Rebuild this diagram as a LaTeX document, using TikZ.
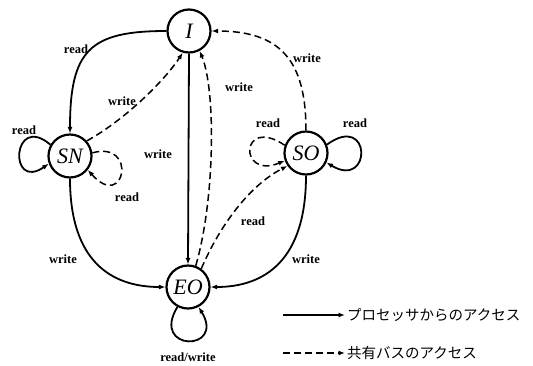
\documentclass[tikz,border=0pt]{standalone}
\usepackage{fontspec}
\setmainfont{Liberation Serif}
\newfontfamily\cjk{Noto Sans CJK JP}
\usetikzlibrary{arrows.meta}
\begin{document}
\begin{tikzpicture}[x=1pt,y=-1pt,
  state/.style={circle,draw,line width=2.2pt,minimum size=43pt,inner sep=0pt,font=\fontsize{22}{22}\selectfont\itshape},
  proc/.style={line width=1.8pt,-{Latex[length=6.5pt,width=5pt]}},
  bus/.style={line width=1.5pt,dash pattern=on 7pt off 4pt,-{Latex[length=6.5pt,width=5pt]}},
  lbl/.style={font=\fontsize{12.5}{13}\selectfont\bfseries,inner sep=0pt},
  leg/.style={font=\cjk\fontsize{14.5}{15}\selectfont,anchor=west,inner sep=2pt}]
\useasboundingbox (0,0) rectangle (533,365);
% states
\node[state] (I)  at (189,31)  {I};
\node[state] (SN) at (70,156)  {SN};
\node[state] (SO) at (306,153) {SO};
\node[state] (EO) at (188,287) {EO};
% processor accesses
\draw[proc] (I.west) .. controls (90,31) and (70,50) .. (SN.north);
\draw[proc] (I.south) -- (EO.north);
\draw[proc] (SN.south) .. controls (70,260) and (110,287) .. (EO.west);
\draw[proc] (SO.south) .. controls (306,260) and (265,287) .. (EO.east);
\draw[proc] (SN.150) .. controls (12,112) and (8,192) .. (SN.200);
\draw[proc] (SO.22) .. controls (372,112) and (372,190) .. (SO.-25);
\draw[proc] (EO.242) .. controls (150,352) and (226,352) .. (EO.-62);
% bus accesses
\draw[bus] (SN.42) .. controls (125,120) and (165,80) .. (I.254);
\draw[bus] (EO.70) .. controls (215,200) and (216,90) .. (I.298);
\draw[bus] (SO.north) .. controls (306,60) and (280,31) .. (I.east);
\draw[bus] (EO.54) .. controls (220,225) and (250,185) .. (SO.215);
\draw[bus] (SN.8) .. controls (138,140) and (125,212) .. (SN.-38);
\draw[bus] (SO.160) .. controls (240,115) and (238,180) .. (SO.200);
% labels
\node[lbl] (r1) at (76,49)   {read};
\node[lbl] (w1) at (122,101) {write};
\node[lbl] (w2) at (158,154) {write};
\node[lbl] (w3) at (239,87)  {write};
\node[lbl] (w4) at (307,58)  {write};
\node[lbl] (r2) at (253,221) {read};
\node[lbl] (w5) at (63,259)  {write};
\node[lbl] (w6) at (306,259) {write};
\node[lbl] (r3) at (24,130)  {read};
\node[lbl] (r4) at (127,197) {read};
\node[lbl] (r5) at (268,123) {read};
\node[lbl] (r6) at (355,123) {read};
\node[lbl] (rw) at (188,357) {read/write};
% legend
\coordinate (l1) at (283,315);
\coordinate (l2) at (283,353);
\node[leg] (t1) at (345,315) {プロセッサからのアクセス};
\node[leg] (t2) at (345,353) {共有バスのアクセス};
\draw[proc] (l1) -- (t1.west);
\draw[bus] (l2) -- (t2.west);
\end{tikzpicture}
\end{document}
